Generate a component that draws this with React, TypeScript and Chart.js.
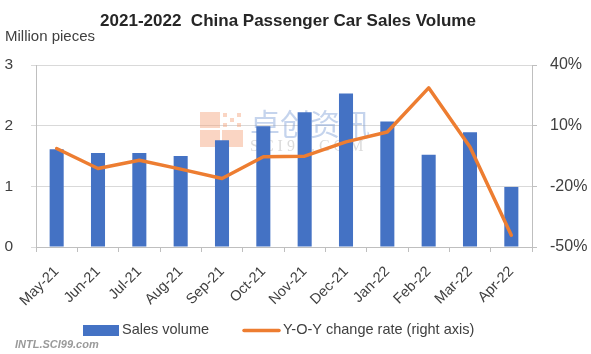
import React, { useEffect, useRef } from "react";
import { Chart, registerables } from "chart.js";

Chart.register(...registerables);

const months = ["May-21", "Jun-21", "Jul-21", "Aug-21", "Sep-21", "Oct-21", "Nov-21", "Dec-21", "Jan-22", "Feb-22", "Mar-22", "Apr-22"];
const salesVolume = [1.61, 1.55, 1.55, 1.5, 1.76, 1.99, 2.22, 2.53, 2.07, 1.52, 1.89, 0.99];
const yoyChange = [-1.3, -11.2, -7.1, -11.5, -16.1, -5.4, -5.1, 2.0, 6.9, 28.7, -0.5, -44.2];

const titleText = "2021-2022  China Passenger Car Sales Volume";
const unitText = "Million pieces";
const legendBar = "Sales volume";
const legendLine = "Y-O-Y change rate (right axis)";
const FONT = "'Liberation Sans', Arial, sans-serif";

const decorPlugin = {
  id: "decor",
  beforeDatasetsDraw(chart: any) {
    const ctx = chart.ctx;
    ctx.save();
    // watermark logo
    ctx.globalAlpha = 0.45;
    ctx.fillStyle = "#f4a27a";
    const lx = 200, ly = 112;
    ctx.fillRect(lx, ly, 20, 16);
    ctx.fillRect(lx, ly + 18, 20, 17);
    ctx.fillRect(lx + 22, ly + 18, 21, 17);
    for (let i = 0; i < 3; i++) {
      for (let j = 0; j < 3; j++) {
        if ((i + j) % 2 === 0) ctx.fillRect(lx + 23 + i * 7, ly + 1 + j * 5, 4, 4);
      }
    }
    ctx.fillStyle = "#7f9fd6";
    ctx.font = `30px 'Noto Sans CJK SC', sans-serif`;
    ctx.textBaseline = "middle";
    ctx.textAlign = "left";
    ctx.fillText("卓创资讯", 250, 124);
    ctx.fillStyle = "#b0b0b0";
    ctx.font = `16px 'Liberation Serif', serif`;
    ctx.fillText("S C I 9 9 . C O M", 250, 147);
    ctx.restore();
  },
  afterDraw(chart: any) {
    const ctx = chart.ctx;
    ctx.save();
    ctx.textBaseline = "middle";
    // title
    ctx.fillStyle = "#262626";
    ctx.font = `bold 17px ${FONT}`;
    ctx.textAlign = "center";
    ctx.fillText(titleText, 288, 21);
    // unit label
    ctx.textAlign = "left";
    ctx.fillStyle = "#404040";
    ctx.font = `15px ${FONT}`;
    ctx.fillText(unitText, 5, 37);
    // legend
    ctx.font = `14.5px ${FONT}`;
    ctx.fillStyle = "#4472C4";
    ctx.fillRect(83, 325, 36, 11);
    ctx.fillStyle = "#404040";
    ctx.fillText(legendBar, 122, 330);
    ctx.strokeStyle = "#ED7D31";
    ctx.lineWidth = 3.5;
    ctx.lineCap = "round";
    ctx.beginPath();
    ctx.moveTo(244, 330.5);
    ctx.lineTo(279, 330.5);
    ctx.stroke();
    ctx.fillText(legendLine, 283, 330);
    // bottom watermark
    ctx.fillStyle = "#9a9a9a";
    ctx.font = `italic bold 11px ${FONT}`;
    ctx.fillText("INTL.SCI99.com", 15, 345);
    ctx.restore();
  },
};

export default function App() {
  const ref = useRef<HTMLCanvasElement | null>(null);
  useEffect(() => {
    document.body.style.margin = "0";
    const canvas = ref.current!;
    const chart = new Chart(canvas, {
      type: "bar",
      data: {
        labels: months,
        datasets: [
          {
            type: "line",
            label: legendLine,
            data: yoyChange,
            yAxisID: "y1",
            borderColor: "#ED7D31",
            backgroundColor: "#ED7D31",
            borderWidth: 3.5,
            pointRadius: 0,
            tension: 0,
            borderJoinStyle: "round",
            borderCapStyle: "round",
            order: 0,
          } as any,
          {
            type: "bar",
            label: legendBar,
            data: salesVolume,
            yAxisID: "y",
            backgroundColor: "#4472C4",
            barPercentage: 0.34,
            categoryPercentage: 1,
            order: 1,
          } as any,
        ],
      },
      options: {
        responsive: false,
        animation: false,
        devicePixelRatio: 1,
        layout: { padding: { top: 65, left: 0, right: 0, bottom: 0 } },
        plugins: {
          legend: { display: false },
          title: { display: false },
          tooltip: { enabled: false },
        },
        scales: {
          x: {
            offset: true,
            grid: { offset: true, drawOnChartArea: false, drawTicks: true, tickLength: 5, color: "#bfbfbf" },
            border: { color: "#bfbfbf" },
            ticks: {
              minRotation: 45,
              maxRotation: 45,
              autoSkip: false,
              padding: 11,
              color: "#404040",
              font: { family: FONT, size: 14.5 },
            },
            afterFit: (s: any) => { s.height = 107; },
          },
          y: {
            position: "left",
            min: 0,
            max: 3,
            ticks: { stepSize: 1, crossAlign: "near", padding: 18, color: "#404040", font: { family: FONT, size: 15.5 } },
            grid: { color: "#d9d9d9", tickLength: 5 },
            border: { color: "#bfbfbf" },
            afterFit: (s: any) => { s.width = 36; },
          },
          y1: {
            position: "right",
            min: -50,
            max: 40,
            ticks: {
              stepSize: 30,
              padding: 13,
              color: "#404040",
              font: { family: FONT, size: 16 },
              callback: (v: any) => `${v}%`,
            },
            grid: { drawOnChartArea: false, tickLength: 5, color: "#bfbfbf" },
            border: { color: "#bfbfbf" },
            afterFit: (s: any) => { s.width = 59; },
          },
        },
      } as any,
      plugins: [decorPlugin],
    });
    return () => chart.destroy();
  }, []);
  return <canvas ref={ref} width={591} height={354} style={{ display: "block" }} />;
}
